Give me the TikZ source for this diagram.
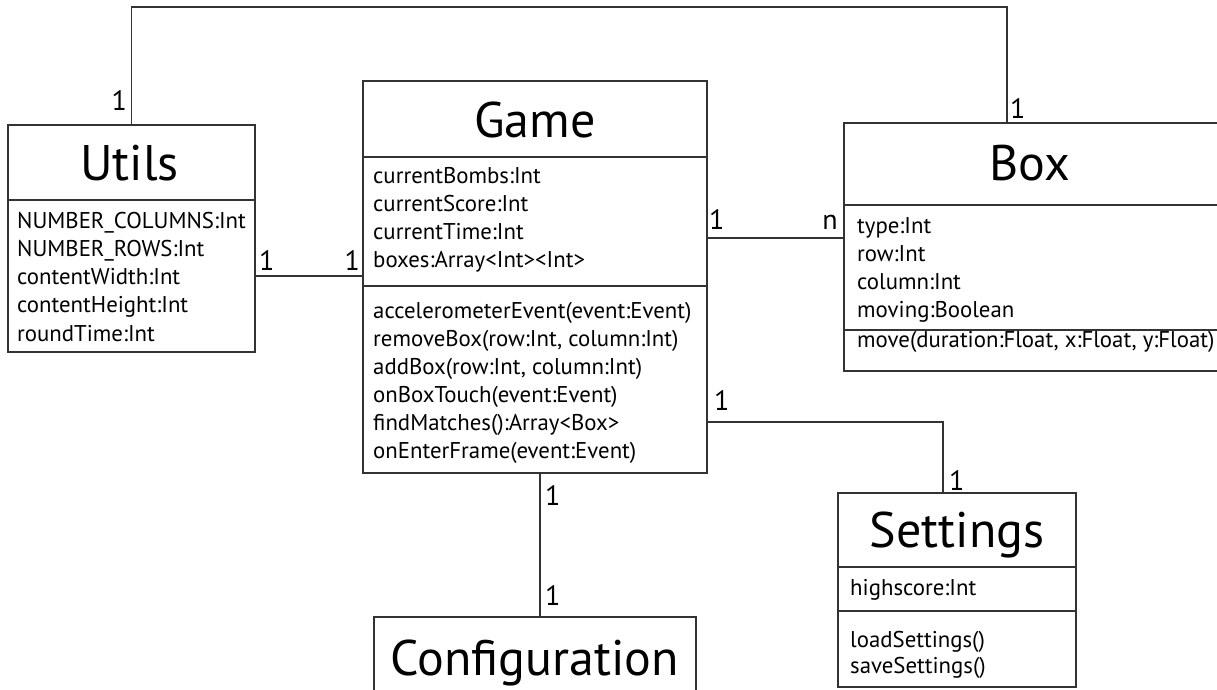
\documentclass[tikz,border=0pt]{standalone}
\usepackage{fontspec}
\setmainfont{PT Sans}
\usetikzlibrary{calc}
\definecolor{linegray}{HTML}{333333}
\tikzset{
  cls/.style={draw=linegray, line width=1.4pt, rectangle, inner sep=0pt, outer sep=0pt, anchor=north west},
  sepline/.style={draw=linegray, line width=1.4pt},
  conn/.style={draw=linegray, line width=1.4pt},
  ttl/.style={anchor=base, inner sep=0pt, font=\fontsize{50}{50}\selectfont},
  txt/.style={anchor=base west, inner sep=0pt, font=\fontsize{22.8}{28}\selectfont},
  mult/.style={inner sep=0pt, font=\fontsize{28}{28}\selectfont},
}
\begin{document}
\begin{tikzpicture}[x=1pt,y=-1pt]
\useasboundingbox (0,0) rectangle (1217,689);

% class boxes
\node[cls, minimum width=247pt, minimum height=227pt] (utils) at (8,125) {};
\node[cls, minimum width=344pt, minimum height=392pt] (game) at (363,81) {};
\node[cls, minimum width=376pt, minimum height=248pt] (box) at (844,123) {};
\node[cls, minimum width=238pt, minimum height=194pt] (settings) at (838,493) {};
\node[cls, minimum width=322pt, minimum height=100pt] (config) at (374,617) {};

% compartment dividers
\draw[sepline] ($(utils.north west)+(0,75)$) -- ($(utils.north east)+(0,75)$);
\draw[sepline] ($(game.north west)+(0,76)$) -- ($(game.north east)+(0,76)$);
\draw[sepline] ($(game.north west)+(0,205)$) -- ($(game.north east)+(0,205)$);
\draw[sepline] ($(box.north west)+(0,82)$) -- ($(box.north east)+(0,82)$);
\draw[sepline] ($(box.north west)+(0,207)$) -- ($(box.north east)+(0,207)$);
\draw[sepline] ($(settings.north west)+(0,74)$) -- ($(settings.north east)+(0,74)$);
\draw[sepline] ($(settings.north west)+(0,118)$) -- ($(settings.north east)+(0,118)$);

% titles
\node[ttl] (utilsT) at ($(utils.north)+(-2,55)$) {Utils};
\node[ttl] (gameT) at ($(game.north)+(0,56)$) {Game};
\node[ttl] (boxT) at ($(box.north west)+(186,57)$) {Box};
\node[ttl] (settingsT) at ($(settings.north)+(0,54)$) {Settings};
\node[ttl] (configT) at ($(config.north)+(0,58)$) {Configuration};

% Utils attributes
\foreach \t [count=\i from 0] in {NUMBER\_COLUMNS:Int, NUMBER\_ROWS:Int, contentWidth:Int, contentHeight:Int, roundTime:Int}
  \node[txt] (ua\i) at (17,{228+28.25*\i}) {\t};

% Game attributes
\foreach \t [count=\i from 0] in {currentBombs:Int, currentScore:Int, currentTime:Int, boxes:Array<Int><Int>}
  \node[txt] (ga\i) at (373,{183+28*\i}) {\t};

% Game methods
\foreach \t [count=\i from 0] in {accelerometerEvent(event:Event), {removeBox(row:Int, column:Int)}, {addBox(row:Int, column:Int)}, onBoxTouch(event:Event), findMatches():Array<Box>, onEnterFrame(event:Event)}
  \node[txt] (gm\i) at (373,{318+28*\i}) {\t};

% Box attributes
\foreach \t [count=\i from 0] in {type:Int, row:Int, column:Int, moving:Boolean}
  \node[txt] (ba\i) at (857,{233+28*\i}) {\t};
\node[txt] (bm0) at (857,347) {move(duration:Float, x:Float, y:Float)};

% Settings
\node[txt] (sa0) at (850,595) {highscore:Int};
\node[txt] (sm0) at (850,647) {loadSettings()};
\node[txt] (sm1) at (850,673) {saveSettings()};

% helper coordinates for connector heights
\coordinate (yUG) at (0,276);
\coordinate (yGB) at (0,238);
\coordinate (yGS) at (0,422);
\coordinate (xGC) at (540,0);

% connectors
\draw[conn] (utils.north) -- ++(0,-118) -| ($(box.north west)+(163,0)$);
\draw[conn] (utils.east |- yUG) -- (game.west |- yUG);
\draw[conn] (game.east |- yGB) -- (box.west |- yGB);
\draw[conn] (game.east |- yGS) -| ($(settings.north west)+(105,0)$);
\draw[conn] (game.south -| xGC) -- (config.north -| xGC);

% multiplicities
\node[mult, anchor=base east] (m1) at (127,110) {1};
\node[mult, anchor=base west] (m2) at (1010,118) {1};
\node[mult, anchor=base west] (m3) at (259,270) {1};
\node[mult, anchor=base east] (m4) at (360,270) {1};
\node[mult, anchor=base west] (m5) at (709,229) {1};
\node[mult, anchor=base east] (m6) at (838,229) {n};
\node[mult, anchor=base west] (m7) at (714,410) {1};
\node[mult, anchor=base west] (m8) at (949,490) {1};
\node[mult, anchor=base west] (m9) at (545,505) {1};
\node[mult, anchor=base west] (m10) at (545,605) {1};
\end{tikzpicture}
\end{document}
